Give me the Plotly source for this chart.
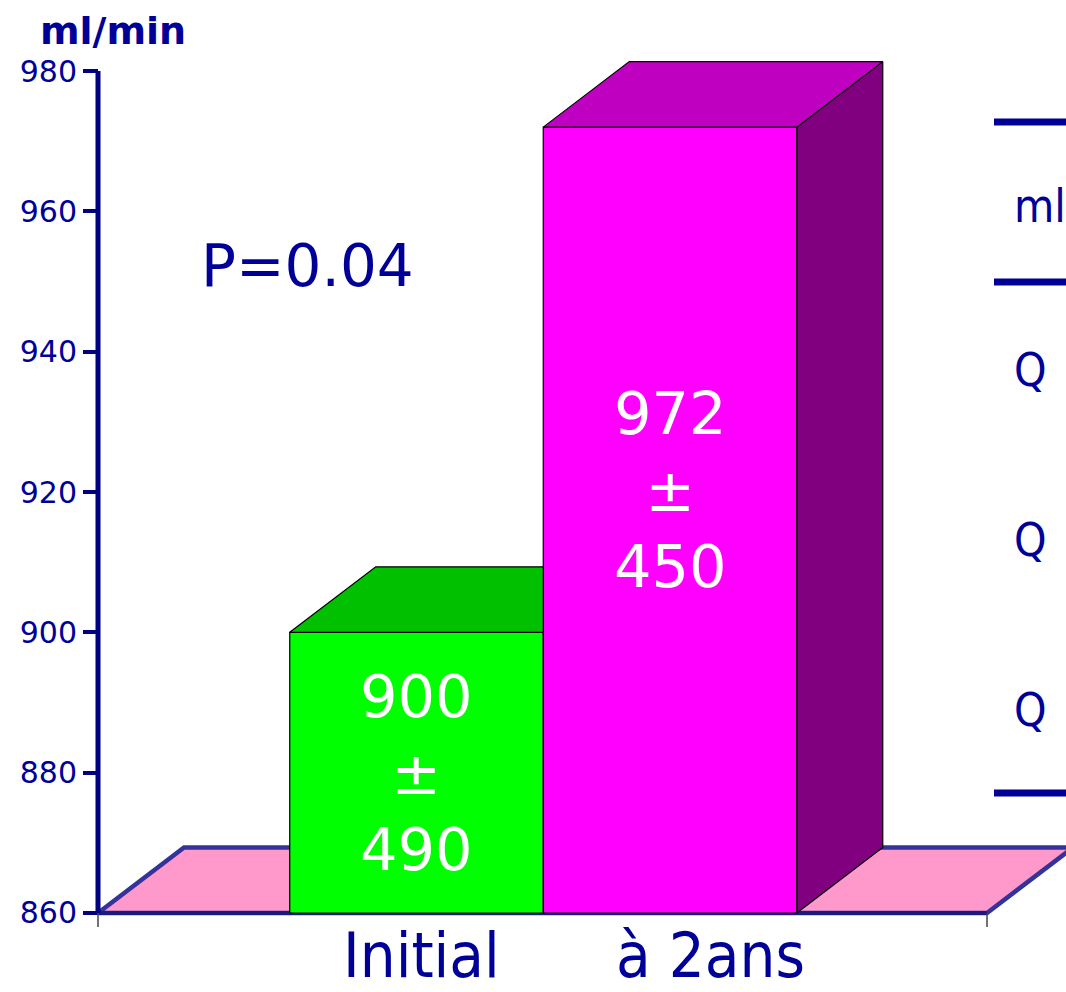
import plotly.graph_objects as go

# ---- data ----
categories = ["Initial", "à 2ans"]
means = [900, 972]
sds = [490, 450]
y_ticks = [860, 880, 900, 920, 940, 960, 980]
base_value = 860
p_value_text = "P=0.04"
unit_text = "ml/min"

# ---- styling / geometry ----
W, H = 1066, 992
NAVY = "#000099"
AXIS_NAVY = "#000080"
front_colors = ["#00FF00", "#FF00FF"]
top_colors = ["#00C000", "#C000C0"]
side_colors = ["#008000", "#800080"]
FLOOR_FILL = "#FF99CC"
FLOOR_EDGE = "#333399"
FONT = "DejaVu Sans"
FONT_NARROW = "DejaVu Sans Condensed, Liberation Sans Narrow, DejaVu Sans"

# axis ranges (x: category index, bar width 1)
X_RANGE = [-1.6430, 2.5621]
Y_RANGE = [848.74, 990.12]
AXIS_X = -1.2564          # where the value axis stands
FLOOR_RIGHT = 2.2505      # right front corner of the floor
DX, DY = 0.3393, 9.335    # 3-D depth offset (x units, y units)
LABEL_SHIFT = [0.0, 4.3]  # vertical nudge of the in-bar labels (y units)


def xpix_to_paper(px):
    return px / W


def ypix_to_paper(py):
    return 1 - py / H


fig = go.Figure()


def poly(xs, ys, fill, line_color="black", line_width=1.2):
    fig.add_trace(go.Scatter(
        x=xs + [xs[0]], y=ys + [ys[0]], mode="lines", fill="toself",
        fillcolor=fill, line=dict(color=line_color, width=line_width),
        hoverinfo="skip", showlegend=False))


# floor
poly([AXIS_X, FLOOR_RIGHT, FLOOR_RIGHT + DX, AXIS_X + DX],
     [base_value, base_value, base_value + DY, base_value + DY],
     FLOOR_FILL, FLOOR_EDGE, 4.5)
fig.add_trace(go.Scatter(
    x=[AXIS_X, FLOOR_RIGHT], y=[base_value, base_value], mode="lines",
    line=dict(color="#1A1A80", width=4), hoverinfo="skip", showlegend=False))

# 3-D bars
for i, v in enumerate(means):
    l, r = i - 0.5, i + 0.5
    poly([r, r + DX, r + DX, r], [base_value, base_value + DY, v + DY, v], side_colors[i])
    poly([l, r, r, l], [base_value, base_value, v, v], front_colors[i])
    poly([l, r, r + DX, l + DX], [v, v, v + DY, v + DY], top_colors[i])

# value labels inside the bars
for i, (v, s) in enumerate(zip(means, sds)):
    fig.add_annotation(
        x=i, y=(v + base_value) / 2 + LABEL_SHIFT[i], xref="x", yref="y",
        text=f"{v}<br>±<br>{s}", showarrow=False,
        font=dict(family=FONT, size=59, color="white"),
        xanchor="center", yanchor="middle")

# category labels under the floor
label_x = [0.02, 1.16]
for lx, c in zip(label_x, categories):
    fig.add_annotation(
        x=lx, y=ypix_to_paper(955), xref="x", yref="paper",
        text=c, showarrow=False,
        font=dict(family=FONT_NARROW, size=63, color=NAVY),
        xanchor="center", yanchor="middle")

# value axis line and bottom tick marks
fig.add_shape(type="line", x0=AXIS_X, x1=AXIS_X, y0=base_value, y1=y_ticks[-1],
              xref="x", yref="y", line=dict(color=AXIS_NAVY, width=5))
for tx in (AXIS_X, FLOOR_RIGHT):
    fig.add_shape(type="line", x0=tx, x1=tx, y0=base_value, y1=base_value - 2,
                  xref="x", yref="y", line=dict(color="#444444", width=1.5))

# unit and p-value
fig.add_annotation(x=xpix_to_paper(113), y=ypix_to_paper(31), xref="paper", yref="paper",
                   text=f"<b>{unit_text}</b>", showarrow=False,
                   font=dict(family=FONT, size=38, color=NAVY),
                   xanchor="center", yanchor="middle")
fig.add_annotation(x=xpix_to_paper(307), y=ypix_to_paper(266), xref="paper", yref="paper",
                   text=p_value_text, showarrow=False,
                   font=dict(family=FONT, size=58, color=NAVY),
                   xanchor="center", yanchor="middle")

# partial table at the right edge
for py in (122, 282, 793):
    fig.add_shape(type="line", x0=xpix_to_paper(994), x1=1.0,
                  y0=ypix_to_paper(py), y1=ypix_to_paper(py),
                  xref="paper", yref="paper", line=dict(color=NAVY, width=7))
for txt, py in (("ml", 206), ("Q", 370), ("Q", 540), ("Q", 710)):
    fig.add_annotation(x=xpix_to_paper(1012), y=ypix_to_paper(py), xref="paper", yref="paper",
                       text=txt, showarrow=False,
                       font=dict(family=FONT_NARROW, size=46, color=NAVY),
                       xanchor="left", yanchor="middle")

fig.update_layout(
    width=W, height=H,
    margin=dict(l=0, r=0, t=0, b=0),
    paper_bgcolor="white", plot_bgcolor="white",
    showlegend=False,
    xaxis=dict(range=X_RANGE, visible=False, domain=[0, 1]),
    yaxis=dict(range=Y_RANGE, domain=[0, 1], anchor="free", position=xpix_to_paper(98),
               tickvals=y_ticks, ticktext=[str(t) for t in y_ticks],
               ticks="outside", ticklen=15, tickwidth=4, tickcolor=AXIS_NAVY,
               tickfont=dict(family=FONT, size=30, color=NAVY),
               showline=False, showgrid=False, zeroline=False),
)

fig.write_html("out.html")
